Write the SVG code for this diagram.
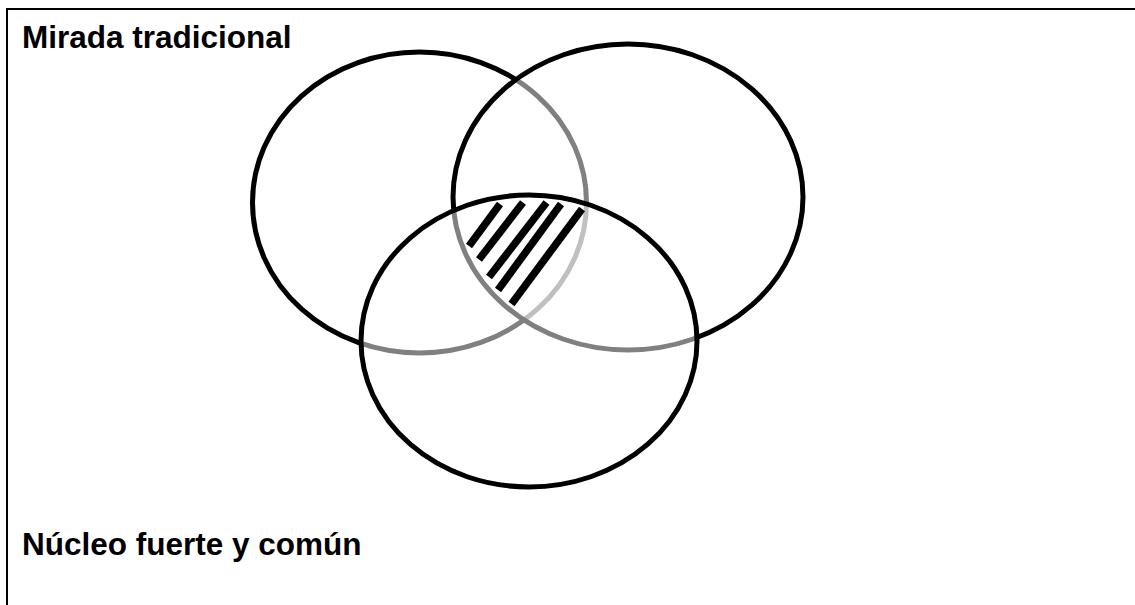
<svg xmlns="http://www.w3.org/2000/svg" width="1135" height="605" viewBox="0 0 1135 605">
  <style>
    .lbl { font-family: "Liberation Sans", Arial, sans-serif; font-weight: bold; font-size: 31.5px; fill: #000; }
    .ring { stroke: #000; stroke-width: 5; }
    .hatch { stroke: #000; stroke-width: 7.5; stroke-linecap: butt; fill: none; }
  </style>
  <rect x="0" y="0" width="1135" height="605" fill="#fff"/>
  <g id="frame" fill="none" stroke="#000" stroke-width="2">
    <line x1="6" y1="9" x2="1135" y2="9"/>
    <line x1="7" y1="8" x2="7" y2="605"/>
  </g>
  <g id="circle-1">
    <ellipse class="ring" cx="419.5" cy="202.5" rx="167" ry="150.5" fill="#fff"/>
  </g>
  <g id="circle-2">
    <ellipse class="ring" cx="628" cy="197" rx="175" ry="153" fill="#fff" fill-opacity="0.5"/>
  </g>
  <g id="circle-3">
    <ellipse class="ring" cx="529" cy="341" rx="168" ry="146" fill="#fff" fill-opacity="0.5"/>
  </g>
  <g id="core-hatch">
    <line class="hatch" x1="500" y1="204" x2="469" y2="246"/>
    <line class="hatch" x1="523" y1="202.5" x2="479" y2="259.5"/>
    <line class="hatch" x1="546.5" y1="202.5" x2="489" y2="277"/>
    <line class="hatch" x1="561" y1="204" x2="498" y2="290"/>
    <line class="hatch" x1="582" y1="209" x2="511.5" y2="304"/>
  </g>
  <g id="label-top">
    <text class="lbl" x="22" y="48">Mirada tradicional</text>
  </g>
  <g id="label-bottom">
    <text class="lbl" x="22" y="555">Núcleo fuerte y común</text>
  </g>
</svg>
